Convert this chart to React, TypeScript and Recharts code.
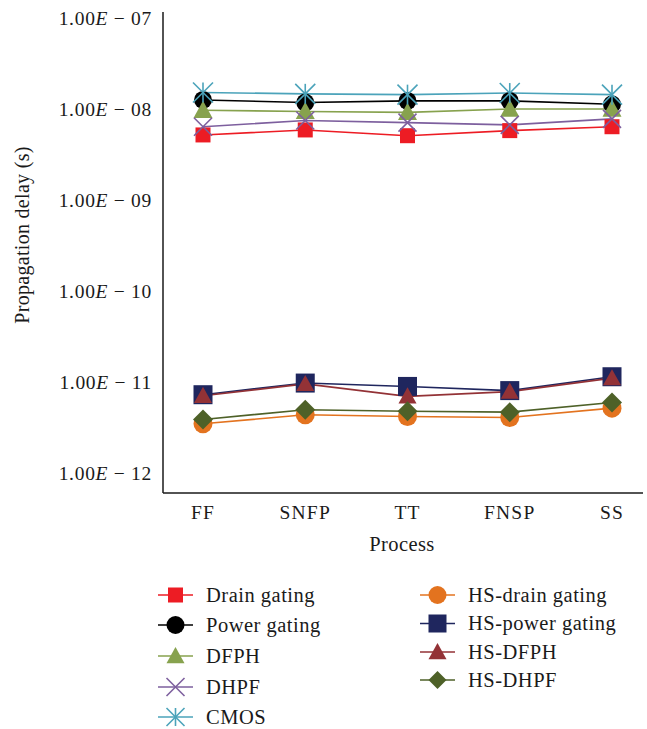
import React from 'react';
import { LineChart, Line, XAxis, YAxis, Label } from 'recharts';

// Process corners on the x axis
const processes = ['FF', 'SNFP', 'TT', 'FNSP', 'SS'];

// Propagation delay (s)
const drainGating = [5.2e-9, 5.9e-9, 5.1e-9, 5.8e-9, 6.4e-9];
const powerGating = [1.26e-8, 1.18e-8, 1.23e-8, 1.23e-8, 1.13e-8];
const dfph = [9.7e-9, 9.4e-9, 9.2e-9, 1.0e-8, 1.0e-8];
const dhpf = [6.4e-9, 7.5e-9, 7.1e-9, 6.7e-9, 7.8e-9];
const cmos = [1.52e-8, 1.47e-8, 1.44e-8, 1.5e-8, 1.44e-8];
const hsDrainGating = [3.5e-12, 4.4e-12, 4.2e-12, 4.1e-12, 5.2e-12];
const hsPowerGating = [7.3e-12, 9.8e-12, 9.0e-12, 8.1e-12, 1.15e-11];
const hsDfph = [7.1e-12, 9.6e-12, 7.0e-12, 7.9e-12, 1.11e-11];
const hsDhpf = [3.9e-12, 5.0e-12, 4.8e-12, 4.7e-12, 6.0e-12];

const yTicks = [1e-12, 1e-11, 1e-10, 1e-9, 1e-8, 1e-7];

type Shape = 'square' | 'circle' | 'triangle' | 'cross' | 'star' | 'diamond';

const SERIES: Array<{ key: string; name: string; values: number[]; color: string; shape: Shape; size: number }> = [
  { key: 'drain', name: 'Drain gating', values: drainGating, color: '#ED1C24', shape: 'square', size: 15 },
  { key: 'power', name: 'Power gating', values: powerGating, color: '#000000', shape: 'circle', size: 18 },
  { key: 'dfph', name: 'DFPH', values: dfph, color: '#87A24E', shape: 'triangle', size: 19 },
  { key: 'dhpf', name: 'DHPF', values: dhpf, color: '#7D5F9E', shape: 'cross', size: 18 },
  { key: 'cmos', name: 'CMOS', values: cmos, color: '#4BA3BA', shape: 'star', size: 20 },
  { key: 'hsDrain', name: 'HS-drain gating', values: hsDrainGating, color: '#E3731F', shape: 'circle', size: 19 },
  { key: 'hsPower', name: 'HS-power gating', values: hsPowerGating, color: '#1F265E', shape: 'square', size: 19 },
  { key: 'hsDfph', name: 'HS-DFPH', values: hsDfph, color: '#933236', shape: 'triangle', size: 18 },
  { key: 'hsDhpf', name: 'HS-DHPF', values: hsDhpf, color: '#4E6128', shape: 'diamond', size: 20 },
];

const data = processes.map((p, i) => {
  const row: Record<string, string | number> = { process: p };
  SERIES.forEach(s => { row[s.key] = s.values[i]; });
  return row;
});

const FONT = '"Liberation Serif", "Times New Roman", serif';

function Marker({ shape, cx, cy, color, size }: { shape: Shape; cx: number; cy: number; color: string; size: number }) {
  const h = size / 2;
  switch (shape) {
    case 'square':
      return <rect x={cx - h} y={cy - h} width={size} height={size} fill={color} />;
    case 'circle':
      return <circle cx={cx} cy={cy} r={h} fill={color} />;
    case 'triangle':
      return <polygon points={`${cx},${cy - h} ${cx + h},${cy + h * 0.8} ${cx - h},${cy + h * 0.8}`} fill={color} />;
    case 'diamond':
      return <polygon points={`${cx},${cy - h} ${cx + h},${cy} ${cx},${cy + h} ${cx - h},${cy}`} fill={color} />;
    case 'cross':
      return (
        <g stroke={color} strokeWidth={1.6}>
          <line x1={cx - h} y1={cy - h} x2={cx + h} y2={cy + h} />
          <line x1={cx - h} y1={cy + h} x2={cx + h} y2={cy - h} />
        </g>
      );
    case 'star':
      return (
        <g stroke={color} strokeWidth={1.6}>
          <line x1={cx - h} y1={cy - h} x2={cx + h} y2={cy + h} />
          <line x1={cx - h} y1={cy + h} x2={cx + h} y2={cy - h} />
          <line x1={cx} y1={cy - h} x2={cx} y2={cy + h} />
        </g>
      );
  }
  return null;
}

function YTick(props: any) {
  const { x, y, payload } = props;
  const exp = Math.round(Math.log10(payload.value));
  const e = String(Math.abs(exp)).padStart(2, '0');
  return (
    <text x={x} y={y} dy={6.5} textAnchor="end" fontFamily={FONT} fontSize={19.5} letterSpacing={0.7} fill="#1a1a1a">
      1.00<tspan fontStyle="italic">E</tspan> − {e}
    </text>
  );
}

function XTick(props: any) {
  const { x, y, payload } = props;
  return (
    <text x={x} y={y} dy={26} textAnchor="middle" fontFamily={FONT} fontSize={19.5} letterSpacing={1.2} fill="#1a1a1a">
      {payload.value}
    </text>
  );
}

function LegendItem({ s, x, y }: { s: typeof SERIES[number]; x: number; y: number }) {
  return (
    <g>
      <line x1={x} y1={y} x2={x + 35} y2={y} stroke={s.color} strokeWidth={1.6} />
      <Marker shape={s.shape} cx={x + 17.5} cy={y} color={s.color} size={Math.min(s.size, 18)} />
      <text x={x + 48} y={y + 6.5} fontFamily={FONT} fontSize={20.5} letterSpacing={0.5} fill="#1a1a1a">{s.name}</text>
    </g>
  );
}

export default function App() {
  const leftRows = [595, 625, 656, 687, 717];
  const rightRows = [595, 623.5, 652, 680];
  return (
    <div style={{ position: 'relative', width: 647, height: 729, background: '#fff' }}>
      <style>{'body{margin:0}'}</style>
      <LineChart width={647} height={560} data={data} margin={{ top: 12, right: 4, bottom: 7, left: 0 }}>
        <XAxis
          dataKey="process"
          padding={{ left: 40, right: 31 }}
          stroke="#1a1a1a"
          strokeWidth={1.5}
          tickLine={false}
          tickSize={0}
          tickMargin={0}
          height={60}
          tick={<XTick />}
          interval={0}
        >
          <Label
            content={() => (
              <text x={402} y={551} textAnchor="middle" fontFamily={FONT} fontSize={20.5} letterSpacing={0.4} fill="#1a1a1a">Process</text>
            )}
          />
        </XAxis>
        <YAxis
          scale="log"
          type="number"
          domain={[Math.pow(10, -12.216), Math.pow(10, -6.934)]}
          ticks={yTicks}
          allowDataOverflow
          width={163}
          stroke="#1a1a1a"
          strokeWidth={1.5}
          tickLine={false}
          tickSize={0}
          tickMargin={11}
          tick={<YTick />}
          interval={0}
        >
          <Label
            content={() => (
              <text transform="translate(29,235) rotate(-90)" textAnchor="middle" fontFamily={FONT} fontSize={20} letterSpacing={0.3} fill="#1a1a1a">
                Propagation delay (s)
              </text>
            )}
          />
        </YAxis>
        {SERIES.map(s => (
          <Line
            key={s.key}
            dataKey={s.key}
            name={s.name}
            stroke={s.color}
            strokeWidth={1.6}
            isAnimationActive={false}
            dot={(p: any) => <Marker key={`${s.key}-${p.index}`} shape={s.shape} cx={p.cx} cy={p.cy} color={s.color} size={s.size} />}
            activeDot={false}
          />
        ))}
      </LineChart>
      <svg width={647} height={729} style={{ position: 'absolute', left: 0, top: 0, pointerEvents: 'none' }}>
        {SERIES.slice(0, 5).map((s, i) => <LegendItem key={s.key} s={s} x={158} y={leftRows[i]} />)}
        {SERIES.slice(5).map((s, i) => <LegendItem key={s.key} s={s} x={420} y={rightRows[i]} />)}
      </svg>
    </div>
  );
}
